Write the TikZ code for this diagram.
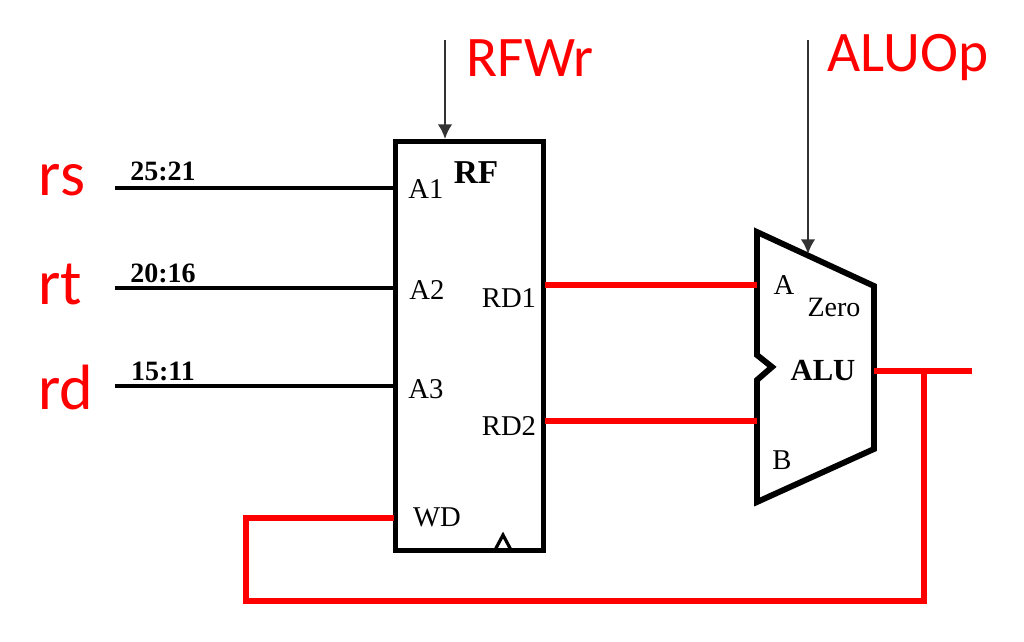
\documentclass[tikz,border=0pt]{standalone}
\usepackage{fontspec}
\setmainfont{Liberation Serif}
\newfontfamily\labelfont{Carlito}
\usetikzlibrary{arrows.meta, positioning, calc}
\definecolor{cred}{HTML}{FF0000}
\definecolor{cgrey}{HTML}{333333}
\tikzset{
  unit/.style={draw=black, line width=3.8pt, line join=miter},
  wire/.style={draw=black, line width=3.4pt},
  redwire/.style={draw=cred, line width=3.8pt},
  ctrl/.style={-{Latex[length=11pt, width=11pt]}, draw=cgrey, line width=1.9pt},
  port/.style={font=\fontsize{21.5}{21.5}\selectfont, inner sep=0pt},
  bits/.style={font=\fontsize{21}{21}\selectfont\bfseries, inner sep=0pt},
  signal/.style={font=\labelfont\fontsize{48}{48}\selectfont, text=cred, inner sep=0pt},
  regname/.style={font=\labelfont\fontsize{43}{43}\selectfont, text=cred, inner sep=0pt},
}
\begin{document}
\begin{tikzpicture}[x=0.75pt, y=-0.75pt]
  \useasboundingbox (0,0) rectangle (1024,642);
  % register file
  \node[unit, minimum width=111pt, minimum height=307pt, inner sep=0pt] (rf) at (469.5,346) {};
  \node[port, font=\fontsize{25}{25}\selectfont\bfseries] (rfname) at (476,173) {RF};
  \node[port] (a1) at (426,189) {A1};
  \node[port] (a2) at (427,290) {A2};
  \node[port] (a3) at (426,389) {A3};
  \node[port] (wd) at (437,517) {WD};
  \node[port] (rd1) at (509,298) {RD1};
  \node[port] (rd2) at (509,426) {RD2};
  \coordinate (clkl) at (495,550);
  \coordinate (clkr) at (511,550);
  \coordinate (clkt) at (503,535);
  \draw[draw=black, line width=2.4pt] (clkl) -- (clkt) -- (clkr);
  % ALU
  \coordinate (alutl) at (757,232);
  \coordinate (alutr) at (874,286);
  \coordinate (alubr) at (874,449);
  \coordinate (alubl) at (757,502);
  \coordinate (notcht) at (757,355);
  \coordinate (notchm) at (772,367);
  \coordinate (notchb) at (757,380);
  \draw[unit, line width=4.4pt] (alutl) -- (alutr) -- (alubr) -- (alubl) -- (notchb) -- (notchm) -- (notcht) -- cycle;
  \node[port] (alua) at (784,285) {A};
  \node[port] (alub) at (782,460) {B};
  \node[port, font=\fontsize{21}{21}\selectfont] (zero) at (834,307) {Zero};
  \node[port, font=\fontsize{23}{23}\selectfont\bfseries] (aluname) at (823,371) {ALU};
  % inputs
  \coordinate (rsend) at (115,188);
  \coordinate (rtend) at (115,288);
  \coordinate (rdend) at (115,386);
  \coordinate (rsport) at (394,188);
  \coordinate (rtport) at (394,288);
  \coordinate (rdport) at (394,386);
  \draw[wire] (rsend) -- (rsport);
  \draw[wire] (rtend) -- (rtport);
  \draw[wire] (rdend) -- (rdport);
  \node[bits] (rsbits) at (163,171) {25:21};
  \node[bits] (rtbits) at (163,273) {20:16};
  \node[bits] (rdbits) at (163,371) {15:11};
  \node[signal] (rs) at (62,180) {rs};
  \node[signal] (rt) at (60,284) {rt};
  \node[signal] (rd) at (66,387) {rd};
  % control
  \coordinate (wrtop) at (445,40);
  \coordinate (wrend) at (445,139);
  \coordinate (optop) at (808,40);
  \coordinate (opend) at (808,254);
  \draw[ctrl] (wrtop) -- (wrend);
  \draw[ctrl] (optop) -- (opend);
  \node[regname] (rfwr) at (530,58) {RFWr};
  \node[regname] (aluop) at (908,58) {ALUOp};
  % data path
  \coordinate (rd1out) at (545,285);
  \coordinate (rd2out) at (545,421);
  \coordinate (aluin1) at (757,285);
  \coordinate (aluin2) at (757,421);
  \coordinate (aluout) at (874,371);
  \coordinate (outend) at (972,371);
  \coordinate (branch) at (924,371);
  \coordinate (wdport) at (394,518);
  \draw[redwire] (rd1out) -- (aluin1);
  \draw[redwire] (rd2out) -- (aluin2);
  \draw[redwire] (aluout) -- (outend);
  \draw[redwire] (branch) |- (246,601) |- (wdport);
\end{tikzpicture}
\end{document}
